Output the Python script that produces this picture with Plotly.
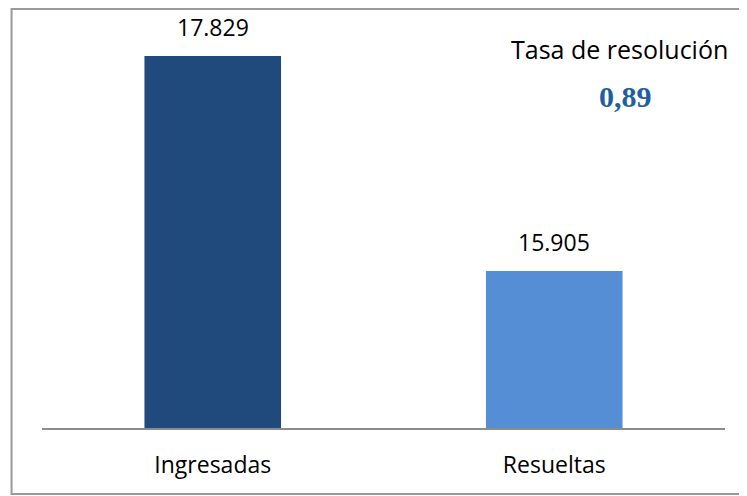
import plotly.graph_objects as go

categories = ["Ingresadas", "Resueltas"]
values = [17829, 15905]
value_labels = ["17.829", "15.905"]
bar_colors = ["#204a7c", "#558ed5"]
rate_title = "Tasa de resolución"
rate_value = "0,89"

# page body has an 8px margin; figure sized to fit the window exactly
OFF = 8
W, H = 747 - OFF, 496 - OFF
plot_left, plot_right = 41.5 - OFF, 725.5 - OFF
plot_top, plot_bottom = 37 - OFF, 428 - OFF
pw = plot_right - plot_left
ph = plot_bottom - plot_top


def px(x):
    return (x - OFF - plot_left) / pw


def py(y):
    return (plot_bottom - (y - OFF)) / ph


fig = go.Figure()
fig.add_trace(go.Bar(
    x=categories, y=values, marker=dict(color=bar_colors, line=dict(width=0)),
    width=0.4, hoverinfo="skip", showlegend=False,
))

for c, v, t in zip(categories, values, value_labels):
    fig.add_annotation(x=c, y=v, xref="x", yref="y", text=t, showarrow=False,
                       yanchor="middle", yshift=29,
                       font=dict(family="Open Sans", size=23, color="#000000"))

fig.add_annotation(xref="paper", yref="paper", x=px(620), y=py(49), text=rate_title,
                   showarrow=False, xanchor="center", yanchor="middle",
                   font=dict(family="Open Sans", size=25, color="#000000"))
fig.add_annotation(xref="paper", yref="paper", x=px(626), y=py(96),
                   text="<b>" + rate_value + "</b>",
                   showarrow=False, xanchor="center", yanchor="middle",
                   font=dict(family="Liberation Serif", size=30, color="#1f5fa0"))

fig.add_shape(type="rect", xref="paper", yref="paper",
              x0=px(11), x1=px(770), y0=py(494), y1=py(9),
              line=dict(color="#9a9a9a", width=2), layer="below")

fig.update_layout(
    width=W, height=H,
    margin=dict(l=plot_left, r=W - plot_right, t=plot_top, b=H - plot_bottom),
    paper_bgcolor="white", plot_bgcolor="white",
)
fig.update_xaxes(showline=True, linecolor="#8c8c8c", linewidth=2, showgrid=False,
                 ticks="outside", ticklen=15, tickcolor="rgba(0,0,0,0)",
                 tickfont=dict(family="Open Sans", size=23, color="#000000"),
                 fixedrange=True)
fig.update_yaxes(range=[14500, 18000], visible=False, showgrid=False, fixedrange=True)

fig.write_html("out.html")
